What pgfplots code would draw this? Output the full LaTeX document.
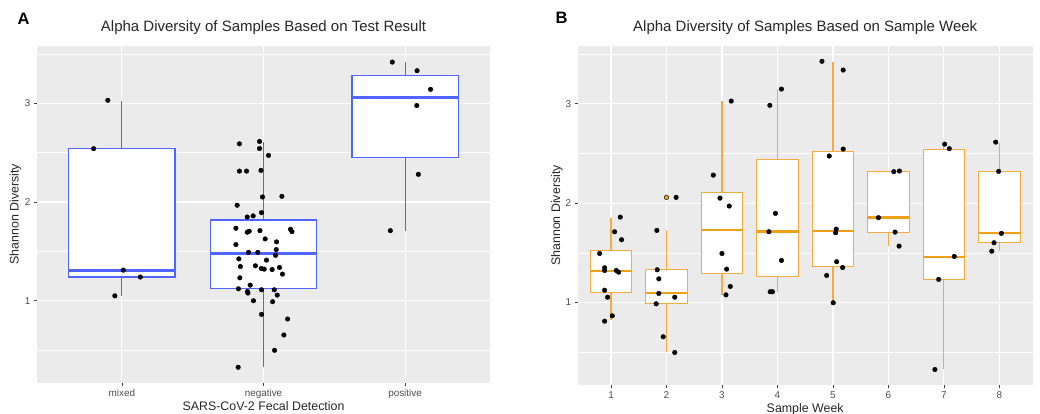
\documentclass[border=0pt]{standalone}
\usepackage{fontspec}
\setmainfont{Liberation Sans}
\usepackage{pgfplots}
\pgfplotsset{compat=1.18}

\definecolor{panelbg}{HTML}{EBEBEB}
\definecolor{ticktext}{HTML}{4D4D4D}
\definecolor{boxblue}{RGB}{80,100,255}
\definecolor{boxorange}{RGB}{245,172,60}
\definecolor{medorange}{RGB}{240,160,20}

\pgfplotsset{
  ggpanel/.style={
    scale only axis,
    axis background/.style={fill=panelbg},
    axis line style={draw=none},
    xmajorgrids, ymajorgrids, yminorgrids,
    major grid style={white, line width=1.1pt},
    minor grid style={white, line width=0.5pt},
    ymin=0.17, ymax=3.58,
    ytick={1,2,3},
    minor ytick={0.5,1.5,2.5,3.5},
    tick pos=left,
    tick align=outside,
    major tick length=3pt,
    minor tick length=0pt,
    tick style={color=black!75, line width=0.6pt},
    ticklabel style={font=\fontsize{9.9}{11}\selectfont, text=ticktext},
    /pgf/number format/assume math mode=true,
    title style={font=\fontsize{15}{17}\selectfont, text=black!85, at={(0.5,1)}, anchor=base, yshift=8pt},
    every axis x label/.style={at={(axis description cs:0.5,0)}, anchor=base, yshift=-28pt,
      font=\fontsize{12.4}{14}\selectfont, text=black!85},
  },
  ylab/.style={every axis y label/.style={at={(axis description cs:#1,0.5)}, rotate=90, anchor=center,
      font=\fontsize{12.4}{14}\selectfont, text=black!85}},
  pts/.style={only marks, mark=*, mark size=2.3pt, mark options={fill=black, draw=none}},
}

% box: outline colour, median colour, position, lower whisker, q1, median, q3, upper whisker
\newcommand\ggbox[8]{%
  \pgfmathsetmacro\bxl{#3-0.375}\pgfmathsetmacro\bxr{#3+0.375}%
  \edef\ggtmp{%
    \noexpand\addplot[draw=#1, line width=1.1pt, mark=none] coordinates {(#3,#4) (#3,#5)};
    \noexpand\addplot[draw=#1, line width=1.1pt, mark=none] coordinates {(#3,#7) (#3,#8)};
    \noexpand\addplot[draw=#1, fill=white, line width=1.1pt, mark=none]
      coordinates {(\bxl,#5) (\bxr,#5) (\bxr,#7) (\bxl,#7)} -- cycle;
    \noexpand\addplot[draw=#2, line width=2.4pt, mark=none] coordinates {(\bxl,#6) (\bxr,#6)};
  }\ggtmp}

\begin{document}
\begin{tikzpicture}
\path[use as bounding box] (0,0) rectangle (1040pt,414pt);

% ---------- panel A ----------
\begin{axis}[ggpanel, ylab=-0.0475,
  at={(37pt,31.3pt)}, anchor=south west,
  width=453pt, height=336.7pt,
  xmin=0.4, xmax=3.6,
  xtick={1,2,3}, xticklabels={mixed,negative,positive},
  title={Alpha Diversity of Samples Based on Test Result},
  xlabel={SARS-CoV-2 Fecal Detection},
  ylabel={Shannon Diversity},
]
\ggbox{boxblue}{boxblue}{1}{1.05}{1.24}{1.306}{2.542}{3.02}
\ggbox{boxblue}{boxblue}{2}{0.326}{1.128}{1.48}{1.818}{2.606}
\ggbox{boxblue}{boxblue}{3}{1.71}{2.455}{3.06}{3.283}{3.414}

% mixed
\addplot[pts] coordinates {(0.90,3.03) (0.80,2.54) (1.01,1.31) (1.13,1.24) (0.95,1.05)};
% negative
\addplot[pts] coordinates {
(1.830,2.589) (1.972,2.613) (1.972,2.542) (2.035,2.472) (1.830,2.313)
(1.880,2.313) (1.982,2.320) (1.993,2.051) (2.130,2.057) (1.814,1.967)
(1.885,1.848) (1.927,1.859) (1.986,1.892) (1.805,1.734) (1.885,1.694)
(1.899,1.704) (1.975,1.710) (2.191,1.724) (2.201,1.700) (2.012,1.626)
(1.805,1.569) (2.092,1.596) (2.090,1.518) (1.894,1.490) (1.960,1.490)
(2.085,1.460) (1.826,1.424) (2.021,1.411) (1.837,1.347) (1.943,1.354)
(1.984,1.327) (2.005,1.320) (2.061,1.316) (2.113,1.337) (2.134,1.270)
(1.833,1.232) (1.906,1.158) (1.823,1.121) (1.887,1.094) (1.890,1.078)
(1.986,1.111) (2.076,1.111) (2.097,1.057) (1.929,1.000) (2.064,0.990)
(1.986,0.862) (2.170,0.815) (2.144,0.653) (2.078,0.498) (1.821,0.326)
};
% positive
\addplot[pts] coordinates {(2.91,3.417) (3.085,3.33) (3.18,3.141) (3.083,2.977) (3.094,2.28) (2.896,1.71)};
\end{axis}

\node[anchor=base west, font=\bfseries\fontsize{16.5}{18}\selectfont] at (14pt,389pt) {A};

% ---------- panel B ----------
\begin{axis}[ggpanel, ylab=-0.0455,
  at={(577.7pt,29pt)}, anchor=south west,
  width=455pt, height=339pt,
  xmin=0.4, xmax=8.6,
  xtick={1,2,3,4,5,6,7,8},
  title={Alpha Diversity of Samples Based on Sample Week},
  xlabel={Sample Week},
  ylabel={Shannon Diversity},
]
\ggbox{boxorange}{medorange}{1}{0.822}{1.104}{1.319}{1.526}{1.853}
\ggbox{boxorange}{medorange}{2}{0.497}{0.987}{1.098}{1.329}{1.725}
\ggbox{boxorange}{medorange}{3}{1.08}{1.295}{1.732}{2.107}{3.026}
\ggbox{boxorange}{medorange}{4}{1.108}{1.265}{1.712}{2.439}{3.144}
\ggbox{boxorange}{medorange}{5}{0.997}{1.365}{1.718}{2.523}{3.423}
\ggbox{boxorange}{medorange}{6}{1.567}{1.708}{1.853}{2.316}{2.322}
\ggbox{boxorange}{medorange}{7}{0.326}{1.232}{1.46}{2.543}{2.593}
\ggbox{boxorange}{medorange}{8}{1.516}{1.601}{1.698}{2.319}{2.607}

% outlier of week 2
\addplot[only marks, mark=*, mark size=2.3pt, mark options={fill=medorange, draw=none}] coordinates {(2,2.057)};

\addplot[pts] coordinates {
(1.167,1.859) (1.065,1.711) (1.190,1.631) (0.795,1.493) (0.885,1.349) (0.885,1.322)
(1.095,1.322) (1.137,1.305) (0.885,1.124) (0.939,1.053) (1.023,0.866) (0.885,0.812)
};
\addplot[pts] coordinates {
(1.826,1.725) (1.833,1.329) (1.862,1.238) (1.862,1.091) (1.815,0.987)
(2.149,1.053) (1.941,0.655) (2.149,0.497) (2.174,2.057)
};
\addplot[pts] coordinates {
(3.167,3.026) (2.844,2.281) (2.964,2.050) (3.131,1.970) (3.000,1.493)
(3.083,1.335) (3.149,1.161) (3.072,1.077)
};
\addplot[pts] coordinates {
(4.072,3.147) (3.863,2.983) (3.964,1.896) (3.845,1.712) (4.072,1.423)
(3.869,1.108) (3.910,1.108)
};
\addplot[pts] coordinates {
(4.802,3.426) (5.185,3.338) (5.185,2.543) (4.933,2.473) (5.059,1.738)
(5.049,1.702) (5.067,1.410) (5.174,1.352) (4.887,1.272) (5.005,0.997)
};
\addplot[pts] coordinates {
(6.097,2.316) (6.198,2.322) (5.820,1.853) (6.120,1.708) (6.192,1.567)
};
\addplot[pts] coordinates {
(7.013,2.593) (7.097,2.547) (7.187,1.463) (6.905,1.232) (6.838,0.326)
};
\addplot[pts] coordinates {
(7.933,2.613) (7.987,2.319) (8.036,1.695) (7.903,1.601) (7.862,1.516)
};
\end{axis}

\node[anchor=base west, font=\bfseries\fontsize{16.5}{18}\selectfont] at (552pt,390pt) {B};
\end{tikzpicture}
\end{document}
